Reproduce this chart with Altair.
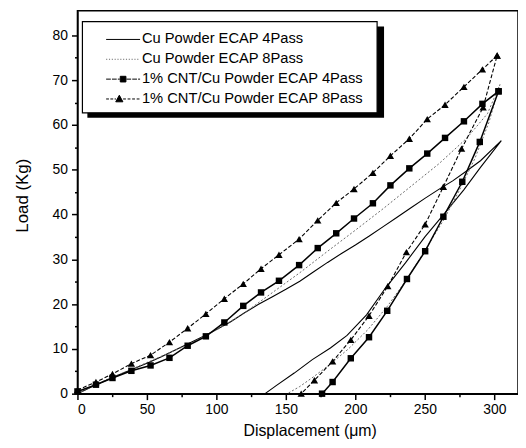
import altair as alt
import pandas as pd

# ---- data ----
series_names = [
    "Cu Powder ECAP 4Pass",
    "Cu Powder ECAP 8Pass",
    "1% CNT/Cu Powder ECAP 4Pass",
    "1% CNT/Cu Powder ECAP 8Pass",
]

cu4_load_x = [0, 10, 20, 30, 40, 50, 60, 70, 80, 90, 100, 110, 120, 130, 140, 150, 160, 170, 180, 190,
              200, 210, 220, 230, 240, 250, 260, 270, 280, 290, 305]
cu4_load_y = [0, 1.5, 2.9, 4.2, 5.5, 6.8, 8.2, 9.7, 11.2, 12.7, 14.3, 16.0, 18.0, 19.9, 21.6, 23.3, 25.1,
              27.2, 29.3, 31.3, 33.2, 35.2, 37.3, 39.4, 41.5, 43.6, 45.6, 47.5, 49.7, 52.0, 56.5]
cu4_unload_x = [305, 290, 278, 264, 250, 236, 221, 208, 194, 182, 169, 156, 143, 135]
cu4_unload_y = [56.5, 50.5, 45.5, 40.2, 35.0, 29.2, 23.3, 17.6, 13.0, 10.2, 7.6, 4.6, 1.8, 0]

cu8_load_x = [0, 20, 40, 60, 80, 100, 120, 140, 160, 180, 200, 220, 240, 260, 280, 295, 304]
cu8_load_y = [0, 3.0, 5.6, 8.3, 11.0, 14.2, 18.0, 22.5, 27.0, 31.8, 36.5, 41.3, 46.3, 51.3, 57.0, 62.5, 69.0]
cu8_unload_x = [304, 296, 286, 275, 263, 250, 237, 223, 209, 195, 182, 170, 160, 151]
cu8_unload_y = [69.0, 60.5, 52.5, 45.5, 38.5, 32.0, 25.5, 19.5, 14.3, 10.0, 6.6, 3.8, 1.6, 0]

cnt4_load_x = [0, 13.3, 25.2, 38.8, 52.6, 66.2, 79.3, 92.4, 105.7, 119.3, 132.1, 145.0, 159.5, 172.9,
               186.2, 199.0, 212.6, 225.2, 238.8, 251.7, 264.5, 278.1, 291.4, 303.0]
cnt4_load_y = [0.5, 2.0, 3.5, 5.1, 6.3, 8.0, 10.7, 12.8, 15.9, 19.6, 22.6, 25.2, 28.7, 32.5, 35.8, 39.1,
               42.5, 46.5, 50.3, 53.6, 57.1, 60.8, 64.7, 67.5]
cnt4_unload_x = [303.0, 289.5, 276.9, 263.3, 250.2, 237.1, 222.9, 209.8, 196.7, 183.6, 176.0]
cnt4_unload_y = [67.5, 56.2, 47.3, 39.5, 31.8, 25.6, 18.5, 12.6, 7.9, 2.6, 0]

cnt8_load_x = [0, 13.3, 25.2, 38.8, 52.6, 66.2, 79.3, 92.4, 105.7, 119.3, 132.1, 145.0, 159.5, 172.9,
               186.2, 199.0, 212.6, 225.2, 238.8, 251.7, 264.5, 278.1, 291.4, 302.0]
cnt8_load_y = [0.8, 2.6, 4.4, 6.7, 8.6, 11.5, 14.6, 17.8, 21.2, 24.5, 27.9, 31.0, 34.5, 38.7, 42.6, 45.7,
               49.3, 53.1, 56.9, 61.3, 64.5, 68.5, 72.4, 75.5]
cnt8_unload_x = [302.0, 291.9, 276.4, 263.3, 250.2, 236.7, 223.3, 209.8, 196.7, 183.6, 170.5, 161.0]
cnt8_unload_y = [75.5, 63.9, 54.7, 46.2, 37.8, 31.6, 24.0, 17.4, 12.0, 7.2, 3.0, 0]

x_ticks = [0, 50, 100, 150, 200, 250, 300]
y_ticks = [0, 10, 20, 30, 40, 50, 60, 70, 80]


def curve(name, lx, ly, ux, uy):
    xs = list(lx) + list(ux)
    ys = list(ly) + list(uy)
    return pd.DataFrame({"series": name, "x": xs, "y": ys, "idx": list(range(len(xs)))})


df = pd.concat([
    curve(series_names[0], cu4_load_x, cu4_load_y, cu4_unload_x, cu4_unload_y),
    curve(series_names[1], cu8_load_x, cu8_load_y, cu8_unload_x, cu8_unload_y),
    curve(series_names[2], cnt4_load_x, cnt4_load_y, cnt4_unload_x, cnt4_unload_y),
    curve(series_names[3], cnt8_load_x, cnt8_load_y, cnt8_unload_x, cnt8_unload_y),
], ignore_index=True)

FONT = "Liberation Sans"

x_minor = list(range(0, 301, 25))
y_minor = list(range(0, 81, 5))

xaxis = alt.Axis(
    values=x_minor,
    labelExpr="datum.value % 50 === 0 ? datum.label : ''",
    tickSize={"condition": {"test": "datum.value % 50 === 0", "value": 6}, "value": 3},
    grid=False, title="Displacement (\u03bcm)", titleX=234, titleY=29,
    titleFontSize=16, titleFont=FONT, titleFontWeight="normal",
    labelPadding=3, labelFontSize=14, labelFont=FONT,
)
yaxis = alt.Axis(
    values=y_minor,
    labelExpr="datum.value % 10 === 0 ? datum.label : ''",
    tickSize={"condition": {"test": "datum.value % 10 === 0", "value": 6}, "value": 3},
    grid=False, title="Load (Kg)", titleX=-46, titleY=186,
    titleFontSize=17, titleFont=FONT, titleFontWeight="normal",
    labelPadding=4, labelFontSize=14, labelFont=FONT,
)

X = alt.X("x:Q", scale=alt.Scale(domain=[0, 317], nice=False, zero=False), axis=xaxis)
Y = alt.Y("y:Q", scale=alt.Scale(domain=[0, 85.5], nice=False, zero=False), axis=yaxis)

base = alt.Chart(df)

layers = []

# legend frame with drop shadow (decoration drawn under the legend)
frame_df = pd.DataFrame({"k": [0]})
layers.append(
    alt.Chart(frame_df).mark_rect(color="black").encode(
        x=alt.value(10), x2=alt.value(309), y=alt.value(16), y2=alt.value(108))
)
layers.append(
    alt.Chart(frame_df).mark_rect(fill="white", stroke="black", strokeWidth=1.2).encode(
        x=alt.value(5), x2=alt.value(302), y=alt.value(11), y2=alt.value(103))
)

line_styles = [
    (series_names[0], dict(color="black", strokeWidth=1.1)),
    (series_names[1], dict(color="#6a6a6a", strokeWidth=1.0, strokeDash=[2, 2])),
    (series_names[2], dict(color="black", strokeWidth=1.5)),
    (series_names[3], dict(color="black", strokeWidth=1.1, strokeDash=[4, 2])),
]

for name, style in line_styles:
    layers.append(
        base.transform_filter(alt.datum.series == name)
        .mark_line(**style)
        .encode(x=X, y=Y, order=alt.Order("idx:Q"))
    )

layers.append(
    base.transform_filter(alt.datum.series == series_names[2])
    .mark_point(shape="square", filled=True, size=42, color="black", opacity=1)
    .encode(x=X, y=Y)
)
layers.append(
    base.transform_filter(alt.datum.series == series_names[3])
    .mark_point(shape="triangle-up", filled=True, size=55, color="black", opacity=1)
    .encode(x=X, y=Y)
)


# ---- legend symbols (custom paths: line + marker) ----
def dashed(x0, x1, seg, gap):
    parts = []
    x = x0
    while x < x1 - 1e-9:
        e = min(x + seg, x1)
        parts.append(f"M{x:.2f},0H{e:.2f}")
        x = e + gap
    return "".join(parts)


sym_cu4 = "M-1.8,0H1.8"
sym_cu8 = dashed(-1.8, 1.8, 0.12, 0.18)
sym_cnt4 = dashed(-1.8, -0.35, 0.5, 0.12) + dashed(0.35, 1.8, 0.5, 0.12) + "M-0.3,-0.3H0.3V0.3H-0.3Z"
sym_cnt8 = dashed(-1.8, -0.75, 0.3, 0.15) + dashed(0.0, 1.8, 0.3, 0.18) + "M-0.4,-0.4L-0.02,0.3H-0.78Z"

leg = alt.Legend(
    title=None, orient="none", legendX=5, legendY=11, padding=8,
    symbolSize=361, symbolStrokeWidth=1, symbolOpacity=1,
    symbolOffset=23, labelOffset=9, rowPadding=3,
    labelFont=FONT, labelFontSize=14.8, labelColor="black", labelLimit=400,
)

legend_df = pd.DataFrame({"series": series_names})
legend_layer = alt.Chart(legend_df).mark_point(filled=True, opacity=0).encode(
    shape=alt.Shape("series:N", scale=alt.Scale(domain=series_names,
                                                 range=[sym_cu4, sym_cu8, sym_cnt4, sym_cnt8]), legend=leg),
    fill=alt.Fill("series:N", scale=alt.Scale(domain=series_names,
                                               range=["black", "#6a6a6a", "black", "black"]), legend=leg),
    stroke=alt.Stroke("series:N", scale=alt.Scale(domain=series_names,
                                                   range=["black", "#6a6a6a", "black", "black"]), legend=leg),
)
layers.append(legend_layer)

chart = alt.layer(*layers).properties(
    width=444, height=386,
    padding={"left": 70, "top": 1, "right": 0, "bottom": 45},
    autosize=alt.AutoSizeParams(type="none"),
).configure_view(
    stroke="black", strokeWidth=1.5,
).configure_axis(
    labelFont=FONT, labelFontSize=14, labelColor="black",
    titleFont=FONT, titleFontSize=16, titleFontWeight="normal", titleColor="black",
    domainColor="black", domainWidth=1.5, tickColor="black", tickWidth=1.5,
)

chart.save("out.html", embed_options={"renderer": "svg", "actions": False})
